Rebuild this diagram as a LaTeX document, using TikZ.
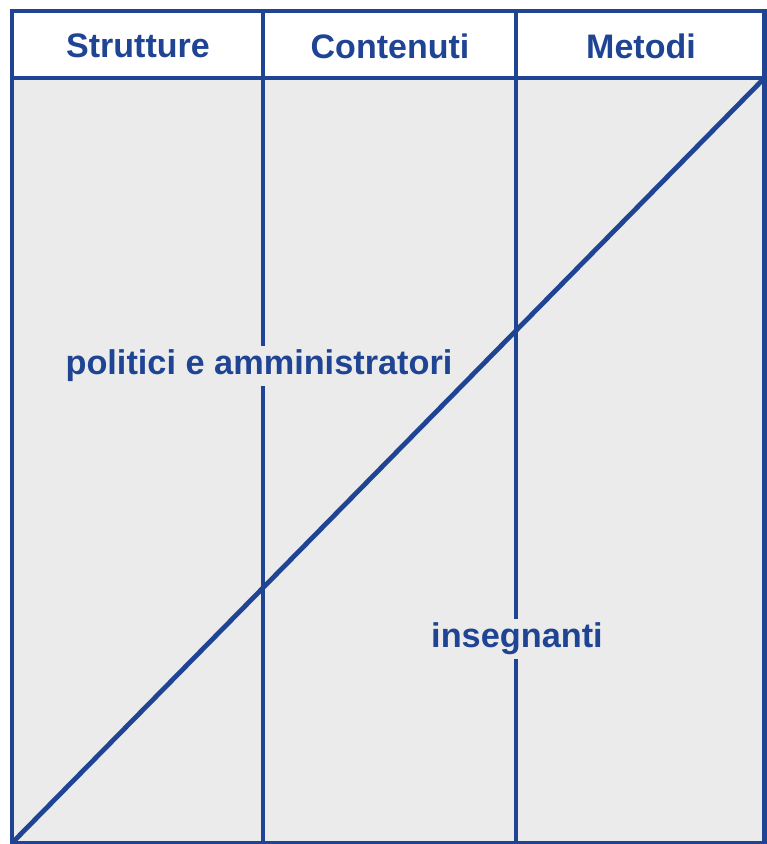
\documentclass[tikz,border=0pt]{standalone}
\usepackage{fontspec}
\setmainfont{Liberation Sans}
\definecolor{lineblue}{RGB}{32,68,148}
\definecolor{bodygray}{RGB}{235,235,235}
\tikzset{
  frameline/.style={draw=lineblue, line width=4.8pt},
  headtext/.style={text=lineblue, font=\fontsize{34}{36}\selectfont\bfseries, inner sep=0pt},
  bodytext/.style={text=lineblue, font=\fontsize{34.3}{36}\selectfont\bfseries, fill=bodygray, inner xsep=2pt, inner ysep=4pt}
}
\begin{document}
\begin{tikzpicture}[x=1pt,y=-1pt]
\useasboundingbox (0,0) rectangle (767,844);
\clip (0,0) rectangle (767,844);
\fill[white] (0,0) rectangle (767,844);
% corners
\coordinate (tl) at (12,11);
\coordinate (tr) at (764.5,11);
\coordinate (hl) at (12,78);
\coordinate (hr) at (764.5,78);
\coordinate (bl) at (12,843);
\coordinate (br) at (764.5,843);
\coordinate (c1t) at (263,11);
\coordinate (c1b) at (263,843);
\coordinate (c2t) at (516,11);
\coordinate (c2b) at (516,843);
\fill[bodygray] (hl) rectangle (br);
% vertical column lines
\draw[frameline] (c1t) -- (c1b);
\draw[frameline] (c2t) -- (c2b);
% diagonal
\draw[frameline] (bl) -- (hr);
% header separator and frame
\draw[frameline] (hl) -- (hr);
\draw[frameline] (tl) rectangle (br);
% header labels
\node[headtext] (h1) at (138,46) {Strutture};
\node[headtext] (h2) at (390,46) {Contenuti};
\node[headtext] (h3) at (641,46) {Metodi};
% body labels
\node[bodytext] (pa) at (259,366) {politici e amministratori};
\node[bodytext] (ins) at (517,639) {insegnanti};
\end{tikzpicture}
\end{document}
